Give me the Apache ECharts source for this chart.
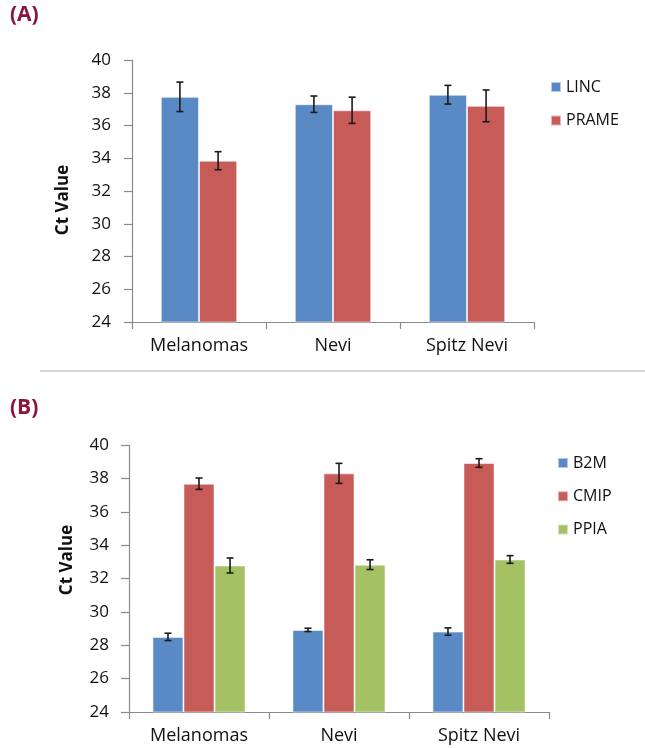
<!DOCTYPE html>
<html>
<head>
<meta charset="utf-8">
<script src="https://cdn.jsdelivr.net/npm/echarts@6/dist/echarts.min.js"></script>
<style>
html,body{margin:0;padding:0;background:#fff;}
#c{width:645px;height:748px;}
</style>
</head>
<body>
<div id="c"></div>
<script>
const categories = ['Melanomas', 'Nevi', 'Spitz Nevi'];

// Panel A
const seriesA = ['LINC', 'PRAME'];
const lincVals = [37.75, 37.3, 37.88];
const lincErr = [0.9, 0.5, 0.57];
const prameVals = [33.85, 36.93, 37.2];
const prameErr = [0.55, 0.8, 0.97];

// Panel B
const seriesB = ['B2M', 'CMIP', 'PPIA'];
const b2mVals = [28.5, 28.92, 28.82];
const b2mErr = [0.22, 0.1, 0.22];
const cmipVals = [37.68, 38.3, 38.92];
const cmipErr = [0.34, 0.6, 0.26];
const ppiaVals = [32.78, 32.83, 33.14];
const ppiaErr = [0.45, 0.29, 0.23];

const yTicks = [24, 26, 28, 30, 32, 34, 36, 38, 40];

const colors = {blue: '#5A8AC6', red: '#C75B58', green: '#A4C263'};
const FONT = '"Open Sans", "Noto Sans", sans-serif';
const axisGray = '#8a8a8a';

function errSeries(name, vals, errs, idx, n, gap, xAxisIndex, yAxisIndex) {
  return {
    type: 'custom',
    name: name + ' err',
    xAxisIndex, yAxisIndex,
    z: 10,
    silent: true,
    data: vals.map((v, k) => [k, v, errs[k]]),
    renderItem: function (params, api) {
      const x = api.value(0), v = api.value(1), e = api.value(2);
      const c = api.coord([x, v]);
      const catW = api.size([1, 0])[0];
      const bw = catW * (1 - gap) / n;
      const cx = c[0] + (idx - (n - 1) / 2) * bw;
      const yt = api.coord([x, v + e])[1];
      const yb = api.coord([x, v - e])[1];
      const cap = 3.5;
      const st = {stroke: '#1a1a1a', lineWidth: 1.6};
      return {
        type: 'group',
        children: [
          {type: 'line', shape: {x1: cx, y1: yt, x2: cx, y2: yb}, style: st},
          {type: 'line', shape: {x1: cx - cap, y1: yt, x2: cx + cap, y2: yt}, style: st},
          {type: 'line', shape: {x1: cx - cap, y1: yb, x2: cx + cap, y2: yb}, style: st}
        ]
      };
    }
  };
}

function xAxisCfg(gridIndex) {
  return {
    type: 'category', gridIndex, data: categories,
    axisLine: {lineStyle: {color: axisGray, width: 1.2}},
    axisTick: {show: true, length: 7, lineStyle: {color: axisGray, width: 1.2}},
    axisLabel: {color: '#111', fontFamily: FONT, fontSize: 18, margin: 15},
    splitLine: {show: false}
  };
}
function yAxisCfg(gridIndex, margin) {
  return {
    type: 'value', gridIndex, min: yTicks[0], max: yTicks[yTicks.length - 1], interval: 2,
    axisLine: {show: true, lineStyle: {color: axisGray, width: 1.2}},
    axisTick: {show: true, length: 8, lineStyle: {color: axisGray, width: 1.2}},
    axisLabel: {color: '#111', fontFamily: FONT, fontSize: 17, margin: margin},
    splitLine: {show: false}
  };
}

const gapA = 0.43, gapB = 0.335;
const barStyle = (col) => ({color: col, borderColor: 'rgba(255,255,255,0.55)', borderWidth: 1});

const chart = echarts.init(document.getElementById('c'), null, {renderer: 'canvas'});
chart.setOption({
  backgroundColor: '#fff',
  animation: false,
  grid: [
    {left: 132, right: 111, top: 60, bottom: 426},
    {left: 129, right: 96, top: 445, bottom: 36}
  ],
  xAxis: [xAxisCfg(0), xAxisCfg(1)],
  yAxis: [yAxisCfg(0, 21), yAxisCfg(1, 20)],
  legend: [
    {
      data: seriesA, orient: 'vertical', left: 545, top: 72,
      itemWidth: 10, itemHeight: 10, itemGap: 13.5,
      icon: 'rect',
      textStyle: {fontFamily: FONT, fontSize: 16, color: '#111', lineHeight: 20}
    },
    {
      data: seriesB, orient: 'vertical', left: 552, top: 448,
      itemWidth: 10, itemHeight: 10, itemGap: 13.3,
      icon: 'rect',
      textStyle: {fontFamily: FONT, fontSize: 16, color: '#111', lineHeight: 20}
    }
  ],
  graphic: [
    {type: 'text', left: 10, top: 5, style: {text: '(A)', fill: '#8B1538', font: 'bold 21px ' + FONT}},
    {type: 'text', left: 10, top: 398, style: {text: '(B)', fill: '#8B1538', font: 'bold 21px ' + FONT}},
    {type: 'line', shape: {x1: 40, y1: 371, x2: 645, y2: 371}, style: {stroke: '#b0b0b0', lineWidth: 1.2}},
    {type: 'text', x: 63, y: 200, rotation: Math.PI / 2,
      style: {text: 'Ct Value', fill: '#111', font: 'bold 17px ' + FONT, textAlign: 'center', textVerticalAlign: 'middle'}},
    {type: 'text', x: 67, y: 560, rotation: Math.PI / 2,
      style: {text: 'Ct Value', fill: '#111', font: 'bold 17px ' + FONT, textAlign: 'center', textVerticalAlign: 'middle'}}
  ],
  series: [
    {type: 'bar', name: 'LINC', xAxisIndex: 0, yAxisIndex: 0, data: lincVals, barGap: '0%', barCategoryGap: (gapA * 100) + '%', itemStyle: barStyle(colors.blue)},
    {type: 'bar', name: 'PRAME', xAxisIndex: 0, yAxisIndex: 0, data: prameVals, barGap: '0%', barCategoryGap: (gapA * 100) + '%', itemStyle: barStyle(colors.red)},
    errSeries('LINC', lincVals, lincErr, 0, 2, gapA, 0, 0),
    errSeries('PRAME', prameVals, prameErr, 1, 2, gapA, 0, 0),
    {type: 'bar', name: 'B2M', xAxisIndex: 1, yAxisIndex: 1, data: b2mVals, barGap: '0%', barCategoryGap: (gapB * 100) + '%', itemStyle: barStyle(colors.blue)},
    {type: 'bar', name: 'CMIP', xAxisIndex: 1, yAxisIndex: 1, data: cmipVals, barGap: '0%', barCategoryGap: (gapB * 100) + '%', itemStyle: barStyle(colors.red)},
    {type: 'bar', name: 'PPIA', xAxisIndex: 1, yAxisIndex: 1, data: ppiaVals, barGap: '0%', barCategoryGap: (gapB * 100) + '%', itemStyle: barStyle(colors.green)},
    errSeries('B2M', b2mVals, b2mErr, 0, 3, gapB, 1, 1),
    errSeries('CMIP', cmipVals, cmipErr, 1, 3, gapB, 1, 1),
    errSeries('PPIA', ppiaVals, ppiaErr, 2, 3, gapB, 1, 1)
  ]
});
</script>
</body>
</html>
